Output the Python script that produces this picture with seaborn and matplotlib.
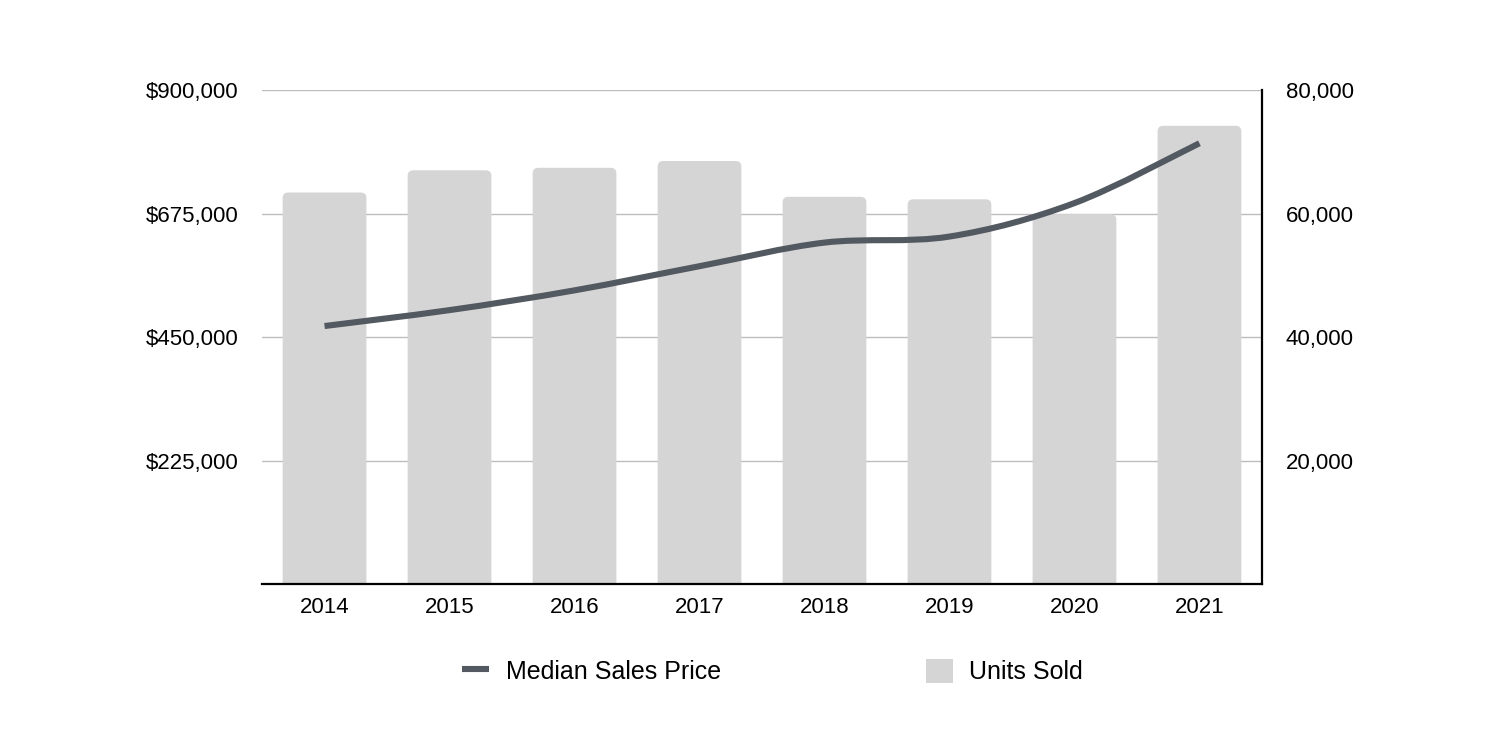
import pandas as pd
import seaborn as sns
import matplotlib.pyplot as plt
from matplotlib.path import Path
from matplotlib.patches import PathPatch, Patch, FancyBboxPatch
from matplotlib.lines import Line2D
from matplotlib.ticker import FuncFormatter

years = ["2014", "2015", "2016", "2017", "2018", "2019", "2020", "2021"]
units_sold = [63400, 67000, 67400, 68500, 62700, 62300, 59900, 74200]
median_price = [470000, 499000, 535000, 579000, 622000, 633000, 694000, 803000]

price_ticks = [225000, 450000, 675000, 900000]
unit_ticks = [20000, 40000, 60000, 80000]

BAR_COLOR = "#d5d5d5"
LINE_COLOR = "#535960"


def smooth_path(xs, ys):
    # catmull-rom through the points, written as cubic bezier segments
    pts = list(zip(xs, ys))
    verts = [pts[0]]
    codes = [Path.MOVETO]
    n = len(pts)
    for i in range(n - 1):
        p0 = pts[max(i - 1, 0)]
        p1 = pts[i]
        p2 = pts[i + 1]
        p3 = pts[min(i + 2, n - 1)]
        c1 = (p1[0] + (p2[0] - p0[0]) / 6, p1[1] + (p2[1] - p0[1]) / 6)
        c2 = (p2[0] - (p3[0] - p1[0]) / 6, p2[1] - (p3[1] - p1[1]) / 6)
        verts += [c1, c2, p2]
        codes += [Path.CURVE4] * 3
    return Path(verts, codes)


def round_bar_tops(ax, radius=0.045):
    # swap seaborn's rectangles for ones with rounded corners; the bottom
    # corners are pushed below zero so only the tops show rounding
    y0, y1 = ax.get_ylim()
    bbox = ax.get_window_extent()
    x0, x1 = ax.get_xlim()
    aspect = ((y1 - y0) / bbox.height) / ((x1 - x0) / bbox.width)
    pad = radius * aspect * 2
    for bar in list(ax.patches):
        x, w, h = bar.get_x(), bar.get_width(), bar.get_height()
        fb = FancyBboxPatch((x, -pad), w, h + pad,
                            boxstyle=f"round,pad=0,rounding_size={radius}",
                            mutation_aspect=aspect, facecolor=bar.get_facecolor(),
                            edgecolor="none", zorder=bar.get_zorder())
        bar.remove()
        ax.add_patch(fb)


sns.set_theme(style="white")
plt.rcParams["font.family"] = ["Liberation Sans", "DejaVu Sans"]

df = pd.DataFrame({"year": years, "units": units_sold, "price": median_price})

fig = plt.figure(figsize=(15, 7.5), dpi=100)
ax = fig.add_axes([0.1747, 0.2213, 0.6666, 0.6587])

sns.barplot(data=df, x="year", y="units", color=BAR_COLOR, saturation=1,
            width=0.67, ax=ax)
ax.set_xlim(-0.5, len(years) - 0.5)
ax.set_ylim(0, 80000)
ax.set_xlabel("")
ax.set_ylabel("")
round_bar_tops(ax)

ax2 = ax.twinx()

# units on the right, price on the left
ax.yaxis.tick_right()
ax.set_yticks(unit_ticks)
ax.yaxis.set_major_formatter(FuncFormatter(lambda v, p: f"{v:,.0f}"))
ax.grid(axis="y", color="#bdbdbd", lw=1)
ax.set_axisbelow(True)
ax.tick_params(axis="y", length=0, labelsize=16, pad=17, labelcolor="black")
ax.tick_params(axis="x", length=0, labelsize=16, pad=9, labelcolor="black")
for s in ["left", "top"]:
    ax.spines[s].set_visible(False)
for s in ["bottom", "right"]:
    ax.spines[s].set_color("black")
    ax.spines[s].set_linewidth(1.6)
    ax.spines[s].set_zorder(5)

ax2.set_ylim(0, 900000)
ax2.yaxis.tick_left()
ax2.set_yticks(price_ticks)
ax2.yaxis.set_major_formatter(FuncFormatter(lambda v, p: f"${v:,.0f}"))
ax2.tick_params(axis="y", length=0, labelsize=16, pad=17, labelcolor="black")
for s in ax2.spines.values():
    s.set_visible(False)
ax2.grid(False)

ax2.add_patch(PathPatch(smooth_path(range(len(years)), median_price), fill=False,
                        edgecolor=LINE_COLOR, lw=4.4, capstyle="butt"))

handles = [Line2D([], [], color=LINE_COLOR, lw=4.4, solid_capstyle="butt"),
           Patch(facecolor=BAR_COLOR, edgecolor="none")]
fig.legend(handles=handles, labels=["Median Sales Price", "Units Sold"],
           loc="center", bbox_to_anchor=(0.515, 0.105), ncol=2, frameon=False,
           fontsize=18, labelcolor="black", handlelength=1.1, handleheight=1.1,
           handletextpad=0.65, columnspacing=8.2)

fig.savefig("out.png", dpi=100)
